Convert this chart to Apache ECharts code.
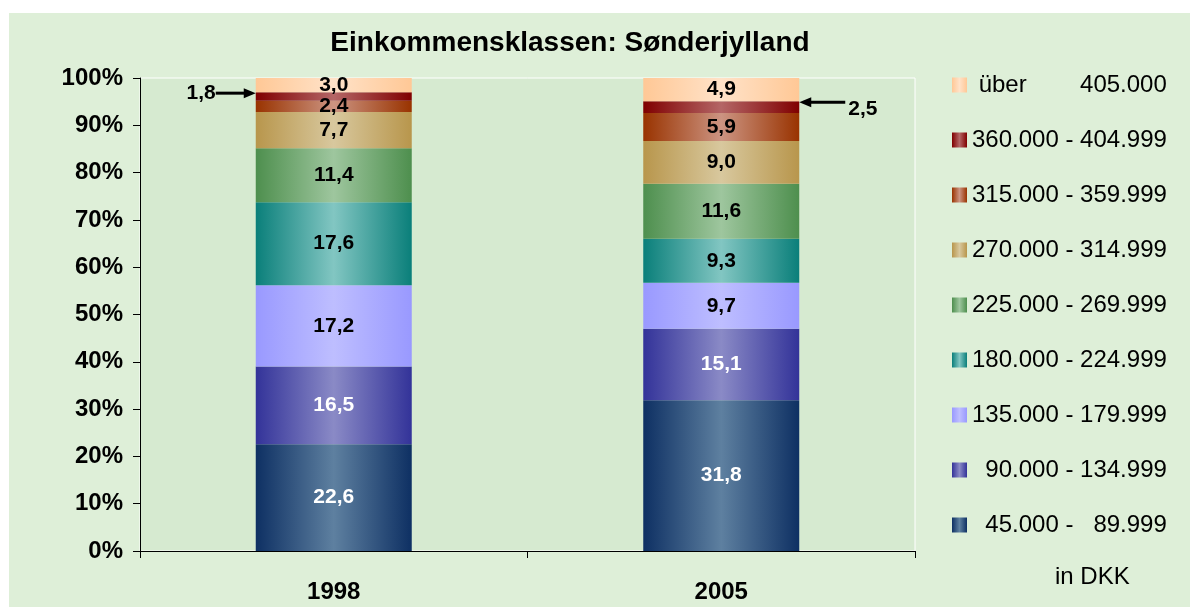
<!DOCTYPE html>
<html>
<head>
<meta charset="utf-8">
<script src="https://cdn.jsdelivr.net/npm/echarts@6/dist/echarts.min.js"></script>
<style>html,body{margin:0;padding:0;background:#fff;}#c{width:1190px;height:607px;}</style>
</head>
<body>
<div id="c"></div>
<script>
var categories = ['1998', '2005'];
var seriesNames = ['45.000 - 89.999', '90.000 - 134.999', '135.000 - 179.999', '180.000 - 224.999',
  '225.000 - 269.999', '270.000 - 314.999', '315.000 - 359.999', '360.000 - 404.999', 'über 405.000'];
var values1998 = [22.6, 16.5, 17.2, 17.6, 11.4, 7.7, 2.4, 1.8, 3.0];
var values2005 = [31.8, 15.1, 9.7, 9.3, 11.6, 9.0, 5.9, 2.5, 4.9];
var yTicks = [0, 10, 20, 30, 40, 50, 60, 70, 80, 90, 100];
var edgeColors = ['#0E3063', '#333399', '#9999FF', '#0A7F7A', '#4E8F4E', '#B8964C', '#993300', '#800000', '#FFC896'];
var midColors  = ['#5E80A0', '#8A8AC6', '#BEBEFF', '#82C6C2', '#9EC69E', '#D8C89E', '#CC9482', '#B46666', '#FFE2C8'];
var labelColors = ['#fff', '#fff', '#000', '#000', '#000', '#000', '#000', '#000', '#000'];

var raw = [values1998, values2005];
var totals = raw.map(function (a) { return a.reduce(function (s, v) { return s + v; }, 0); });
function pct(ci, si) { return raw[ci][si] / totals[ci] * 100; }
function fmt(v) { return v.toFixed(1).replace('.', ','); }
var FONT = 'Liberation Sans, Arial, sans-serif';

var chart = echarts.init(document.getElementById('c'));
var series = seriesNames.map(function (name, si) {
  return {
    name: name,
    type: 'bar',
    stack: 'total',
    barWidth: 156,
    itemStyle: {
      color: new echarts.graphic.LinearGradient(0, 0, 1, 0, [
        { offset: 0, color: edgeColors[si] },
        { offset: 0.5, color: midColors[si] },
        { offset: 1, color: edgeColors[si] }
      ])
    },
    label: {
      show: true,
      position: 'inside',
      color: labelColors[si],
      fontFamily: FONT,
      fontWeight: 'bold',
      fontSize: 21,
      formatter: function (p) { return fmt(raw[p.dataIndex][si]); }
    },
    data: categories.map(function (c, ci) {
      var d = { value: pct(ci, si) };
      if (si === 7) {
        d.label = ci === 0 ? { position: 'left', distance: 40, offset: [0, -3] } : { position: 'right', distance: 49, offset: [0, 2] };
      }
      return d;
    })
  };
});

function pad(s, n) { while (s.length < n) s = ' ' + s; return s; }
function legendFmt(name) {
  if (name.indexOf('über') === 0) {
    return ' über        ' + name.split(' ')[1];
  }
  var parts = name.split(' - ');
  return pad(parts[0], 7).replace(/^ /, '  ') .replace(/^   /, '  ') + ' - ' + (parts[1].length < 7 ? '  ' + parts[1] : parts[1]);
}

var option = {
  animation: false,
  backgroundColor: '#fff',
  title: {
    text: 'Einkommensklassen: Sønderjylland',
    left: 565,
    textAlign: 'center',
    top: 24,
    textStyle: { fontFamily: FONT, fontWeight: 'bold', fontSize: 28, color: '#000' }
  },
  legend: {
    orient: 'vertical',
    left: 952,
    top: 73,
    padding: 0,
    itemGap: 31,
    itemWidth: 15,
    itemHeight: 15,
    icon: 'rect',
    data: seriesNames.slice().reverse(),
    formatter: legendFmt,
    textStyle: { fontFamily: FONT, fontSize: 24, color: '#000' },
    itemStyle: { borderWidth: 0 }
  },
  grid: {
    left: 140, right: 275, top: 78, bottom: 56,
    show: true,
    backgroundColor: '#D6EAD0',
    borderColor: '#ffffff',
    borderWidth: 1
  },
  xAxis: {
    type: 'category',
    data: categories,
    axisLine: { lineStyle: { color: '#000', width: 1 } },
    axisTick: { show: true, length: 7, lineStyle: { color: '#000' } },
    axisLabel: { margin: 29, color: '#000', fontSize: 24, fontWeight: 'bold', fontFamily: FONT }
  },
  yAxis: {
    type: 'value',
    min: yTicks[0],
    max: yTicks[yTicks.length - 1],
    interval: yTicks[1] - yTicks[0],
    axisLine: { show: true, lineStyle: { color: '#000', width: 1 } },
    axisTick: { show: true, length: 7, lineStyle: { color: '#000' } },
    splitLine: { show: false },
    axisLabel: { margin: 17, color: '#000', fontSize: 24, fontWeight: 'bold', fontFamily: FONT,
      formatter: function (v) { return v + '%'; } }
  },
  series: series
};
chart.setOption(option);

// background panel + arrows pointing to the thin "360.000 - 404.999" segments
function cumBelow(ci, si) { var s = 0; for (var k = 0; k <= si; k++) s += pct(ci, k); return s; }
var graphics = [{
  type: 'rect', z: -10, silent: true,
  shape: { x: 9, y: 13, width: 1181, height: 594 },
  style: { fill: '#DEEFD8' }
}, {
  type: 'text', left: 1055, top: 565, silent: true,
  style: { text: 'in DKK', fontSize: 24, fontFamily: FONT, fill: '#000' }
}];
[0, 1].forEach(function (ci) {
  var si = 7;
  var ytop = cumBelow(ci, si);
  var p = chart.convertToPixel({ xAxisIndex: 0, yAxisIndex: 0 }, [ci, ytop]);
  var half = 78;
  var head, tail, dir;
  if (ci === 0) { head = p[0] - half; tail = head - 40; dir = 1; }
  else { head = p[0] + half; tail = head + 46; dir = -1; }
  var y = p[1] + 1;
  graphics.push({
    type: 'line', silent: true, z: 100,
    shape: { x1: tail, y1: y, x2: head - dir * 10, y2: y },
    style: { stroke: '#000', lineWidth: 3 }
  });
  graphics.push({
    type: 'polygon', silent: true, z: 100,
    shape: { points: [[head, y], [head - dir * 12, y - 5], [head - dir * 12, y + 5]] },
    style: { fill: '#000' }
  });
});
chart.setOption({ graphic: graphics });
</script>
</body>
</html>
